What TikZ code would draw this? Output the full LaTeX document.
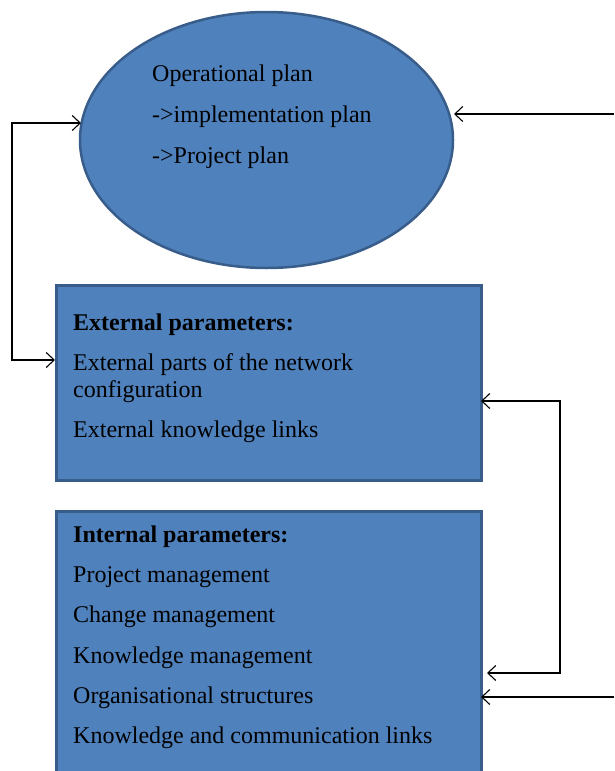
\documentclass[tikz,border=0pt]{standalone}
\usepackage{fontspec}
\setmainfont{Liberation Serif}
\usetikzlibrary{shapes.geometric,arrows.meta}
\definecolor{fillblue}{HTML}{4F81BD}
\definecolor{edgeblue}{HTML}{385D8A}
\tikzset{
  shapefill/.style={fill=fillblue, draw=edgeblue, line width=2.5pt},
  conn/.style={line width=1.1pt, black, arrows={-Straight Barb[length=8pt,width=15pt,line width=1.1pt]}},
  bconn/.style={line width=1.1pt, black, arrows={Straight Barb[length=8pt,width=15pt,line width=1.1pt]-Straight Barb[length=8pt,width=15pt,line width=1.1pt]}},
  txt/.style={inner sep=0pt, anchor=base west, font=\fontsize{24}{28}\selectfont}
}
\begin{document}
\begin{tikzpicture}[x=1pt,y=-1pt]
\useasboundingbox (0,0) rectangle (614,771);
\clip (0,0) rectangle (614,771);
% ellipse
\node[ellipse, shapefill, minimum width=373pt, minimum height=256pt, inner sep=0pt] (plan) at (266.5,140) {};
\node[txt] (p1) at (152,81) {Operational plan};
\node[txt] (p2) at (152,122) {->implementation plan};
\node[txt] (p3) at (152,163) {->Project plan};
% boxes
\node[shapefill, anchor=north west, minimum width=425pt, minimum height=195pt, inner sep=0pt] (box1) at (55,284) {};
\node[txt] (e1) at (73,330) {\textbf{External parameters:}};
\node[txt] (e2) at (73,370) {External parts of the network};
\node[txt] (e3) at (73,397.5) {configuration};
\node[txt] (e4) at (73,437.5) {External knowledge links};
\node[shapefill, anchor=north west, minimum width=425pt, minimum height=290pt, inner sep=0pt] (box2) at (55,510) {};
\node[txt] (i1) at (73,542) {\textbf{Internal parameters:}};
\node[txt] (i2) at (73,582) {Project management};
\node[txt] (i3) at (73,622.5) {Change management};
\node[txt] (i4) at (73,663) {Knowledge management};
\node[txt] (i5) at (73,703) {Organisational structures};
\node[txt] (i6) at (73,743.5) {Knowledge and communication links};
% connectors
\coordinate (ea) at (81,123);
\coordinate (lc1) at (12,123);
\coordinate (lc2) at (12,360);
\coordinate (b1in) at (55,360);
\draw[bconn] (ea) -- (lc1) -- (lc2) -- (b1in);
\coordinate (rt) at (614,114);
\coordinate (eb) at (454,114);
\draw[conn] (rt) -- (eb);
\coordinate (b1r) at (481,401);
\coordinate (rc1) at (560,401);
\coordinate (rc2) at (560,673);
\coordinate (b2r) at (487,673);
\draw[bconn] (b1r) -- (rc1) -- (rc2) -- (b2r);
\coordinate (rb) at (614,697);
\coordinate (b2r2) at (481,697);
\draw[conn] (rb) -- (b2r2);
\end{tikzpicture}
\end{document}
